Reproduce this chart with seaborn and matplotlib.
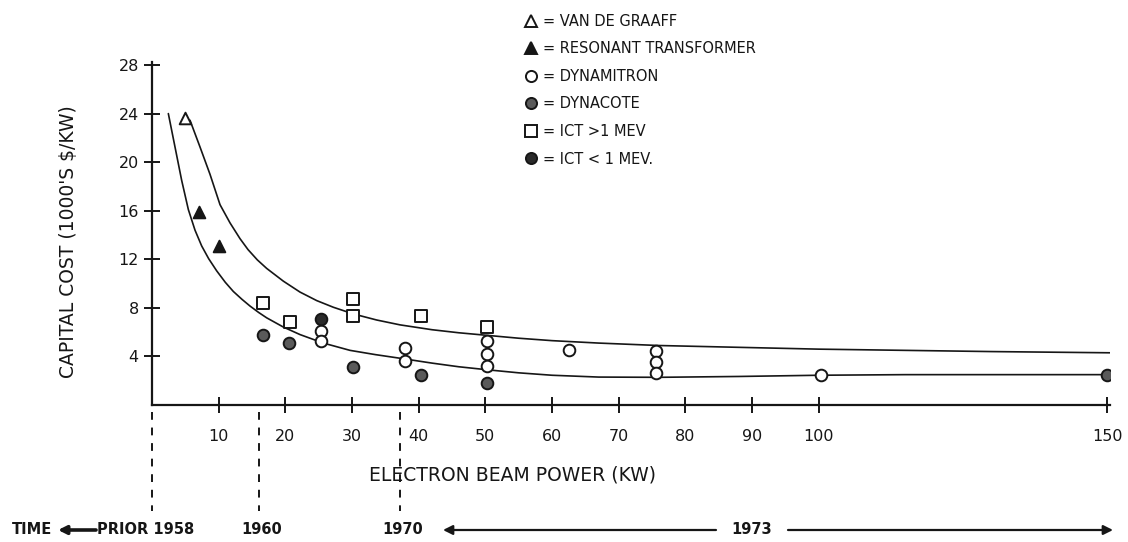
import numpy as np
import pandas as pd
import matplotlib
matplotlib.use("Agg")
import matplotlib.pyplot as plt
import matplotlib.transforms as mtransforms
from matplotlib.lines import Line2D
import seaborn as sns

# ---- data -----------------------------------------------------------------
van_de_graaff_kw = [5.0]
van_de_graaff_cost = [23.6]

resonant_kw = [7.0, 10.0]
resonant_cost = [15.9, 13.1]

dynamitron_kw = [25.4, 25.4, 38.0, 38.0, 50.3, 50.3, 50.3, 62.5, 75.6, 75.6, 75.6, 100.4]
dynamitron_cost = [6.1, 5.3, 4.7, 3.6, 5.3, 4.2, 3.25, 4.5, 4.45, 3.55, 2.6, 2.5]

dynacote_kw = [16.7, 20.6, 30.2, 40.3, 50.3, 150.0]
dynacote_cost = [5.8, 5.1, 3.1, 2.5, 1.85, 2.5]

ict_high_kw = [16.6, 20.7, 30.2, 30.2, 40.3, 50.3]
ict_high_cost = [8.4, 6.8, 8.7, 7.3, 7.3, 6.45]

ict_low_kw = [25.4]
ict_low_cost = [7.1]

# hand-faired envelope curves
upper_kw = [5.7, 7.2, 8.7, 10.2, 11.7, 13.2, 14.4, 15.8, 17.2, 19.7, 22.2, 24.7,
            27.2, 30.2, 33.7, 37.2, 42.0, 46.0, 50.0, 55.0, 60.0, 67.0, 76.0,
            88.0, 100.0, 115.0, 130.0, 150.5]
upper_cost = [23.45, 21.25, 19.0, 16.5, 15.0, 13.7, 12.8, 11.95, 11.25, 10.2, 9.3, 8.6,
              8.05, 7.5, 7.0, 6.6, 6.2, 5.95, 5.75, 5.5, 5.3, 5.1, 4.9,
              4.75, 4.6, 4.5, 4.4, 4.3]
lower_kw = [2.45, 3.45, 4.45, 5.45, 6.45, 7.45, 8.5, 9.7, 11.0, 12.2, 13.5, 14.7,
            16.0, 17.2, 19.7, 22.2, 25.7, 29.7, 33.5, 37.2, 42.0, 46.0, 50.3,
            55.0, 60.0, 67.0, 76.0, 88.0, 100.0, 115.0, 130.0, 150.5]
lower_cost = [24.0, 21.25, 18.5, 16.1, 14.4, 13.1, 12.05, 11.05, 10.1, 9.35, 8.7, 8.15,
              7.62, 7.18, 6.42, 5.8, 5.1, 4.5, 4.15, 3.85, 3.45, 3.15, 2.9,
              2.65, 2.45, 2.3, 2.28, 2.35, 2.45, 2.5, 2.5, 2.5]

x_ticks = [10, 20, 30, 40, 50, 60, 70, 80, 90, 100, 150]
y_ticks = [4, 8, 12, 16, 20, 24, 28]

era_kw = [0.0, 16.0, 37.2]

legend_names = ["VAN DE GRAAFF", "RESONANT TRANSFORMER", "DYNAMITRON",
                "DYNACOTE", "ICT >1 MEV", "ICT < 1 MEV."]

# ---- figure ---------------------------------------------------------------
sns.set_style("ticks")
plt.rcParams["font.family"] = ["DejaVu Sans"]
INK = "#161616"

W, H = 1128, 542
fig = plt.figure(figsize=(W / 100, H / 100), dpi=100)
fig.patch.set_facecolor("white")
ax = fig.add_axes([152 / W, (H - 405) / H, 958 / W, 343 / H])

# axis compressed above 100 kW
K = 0.865
def fwd(x):
    x = np.asarray(x, dtype=float)
    return np.where(x <= 100, x, 100 + (x - 100) * K)
def inv(x):
    x = np.asarray(x, dtype=float)
    return np.where(x <= 100, x, 100 + (x - 100) / K)
ax.set_xscale("function", functions=(fwd, inv))

# curves
sns.lineplot(x=upper_kw, y=upper_cost, ax=ax, color=INK, lw=1.2, sort=False)
sns.lineplot(x=lower_kw, y=lower_cost, ax=ax, color=INK, lw=1.2, sort=False)

groups = [
    (van_de_graaff_kw, van_de_graaff_cost, "^", "white"),
    (resonant_kw, resonant_cost, "^", INK),
    (dynamitron_kw, dynamitron_cost, "o", "white"),
    (dynacote_kw, dynacote_cost, "o", "#5a5a5a"),
    (ict_high_kw, ict_high_cost, "s", "white"),
    (ict_low_kw, ict_low_cost, "o", "#2a2a2a"),
]
handles = []
for (xs, ys, mk, fc), name in zip(groups, legend_names):
    df = pd.DataFrame({"kw": xs, "cost": ys})
    sns.scatterplot(data=df, x="kw", y="cost", ax=ax, marker=mk, s=70,
                    facecolor=fc, edgecolor=INK, linewidth=1.4, zorder=3,
                    legend=False)
    handles.append(Line2D([], [], ls="none", marker=mk, markersize=8,
                          markerfacecolor=fc, markeredgecolor=INK,
                          markeredgewidth=1.4))

ax.set_xlim(0, 150.5)
ax.set_ylim(0, 28.25)
ax.set_xticks(x_ticks)
ax.set_xticklabels([str(t) for t in x_ticks])
ax.set_yticks(y_ticks)
ax.set_yticklabels([str(t) for t in y_ticks])
ax.minorticks_off()
for s in ("top", "right"):
    ax.spines[s].set_visible(False)
for s in ("left", "bottom"):
    ax.spines[s].set_linewidth(1.6)
    ax.spines[s].set_color(INK)
ax.tick_params(axis="both", direction="inout", length=11, width=1.4,
               colors=INK, labelsize=11.5)
ax.tick_params(axis="x", pad=12)
ax.tick_params(axis="y", pad=4)

ax.set_ylabel("CAPITAL COST (1000'S $/KW)", fontsize=13.5, color=INK)
ax.yaxis.set_label_coords(-0.077, 0.475)
ax.set_xlabel("ELECTRON BEAM POWER (KW)", fontsize=13.5, color=INK)
ax.xaxis.set_label_coords(0.376, -0.175)

# legend
leg = fig.legend(handles, ["= " + n for n in legend_names],
                 loc="upper left", bbox_to_anchor=(518 / W, 1 - 8 / H),
                 frameon=False, fontsize=10.5, handlelength=1.0,
                 handletextpad=0.3, labelspacing=0.86, borderaxespad=0)
for t in leg.get_texts():
    t.set_color(INK)

# era markers under the axis
blend = mtransforms.blended_transform_factory(ax.transData, ax.transAxes)
for xv in era_kw:
    ax.plot([xv, xv], [-0.02, -0.31], transform=blend, clip_on=False,
            color=INK, lw=1.4, ls=(0, (4, 4)))

def fx(x):
    return x / W
def fy(y):
    return 1 - y / H

bold = dict(fontsize=10.5, fontweight="bold", color=INK, va="center")
fig.text(fx(12), fy(530), "TIME", ha="left", **bold)
fig.text(fx(97), fy(530), "PRIOR 1958", ha="left", **bold)
fig.text(fx(262), fy(530), "1960", ha="center", **bold)
fig.text(fx(403), fy(530), "1970", ha="center", **bold)
fig.text(fx(752), fy(530), "1973", ha="center", **bold)

arrow = dict(arrowstyle="-|>", lw=1.6, color=INK, mutation_scale=14,
             shrinkA=0, shrinkB=0)
ax.annotate("", xy=(58, H - 530), xytext=(96, H - 530),
            xycoords="figure pixels", textcoords="figure pixels",
            arrowprops=dict(arrow, lw=2.6, mutation_scale=12))
ax.annotate("", xy=(443, H - 530), xytext=(716, H - 530),
            xycoords="figure pixels", textcoords="figure pixels",
            arrowprops=arrow)
ax.annotate("", xy=(1113, H - 530), xytext=(788, H - 530),
            xycoords="figure pixels", textcoords="figure pixels",
            arrowprops=arrow)

fig.savefig("out.png", dpi=100, facecolor="white")
